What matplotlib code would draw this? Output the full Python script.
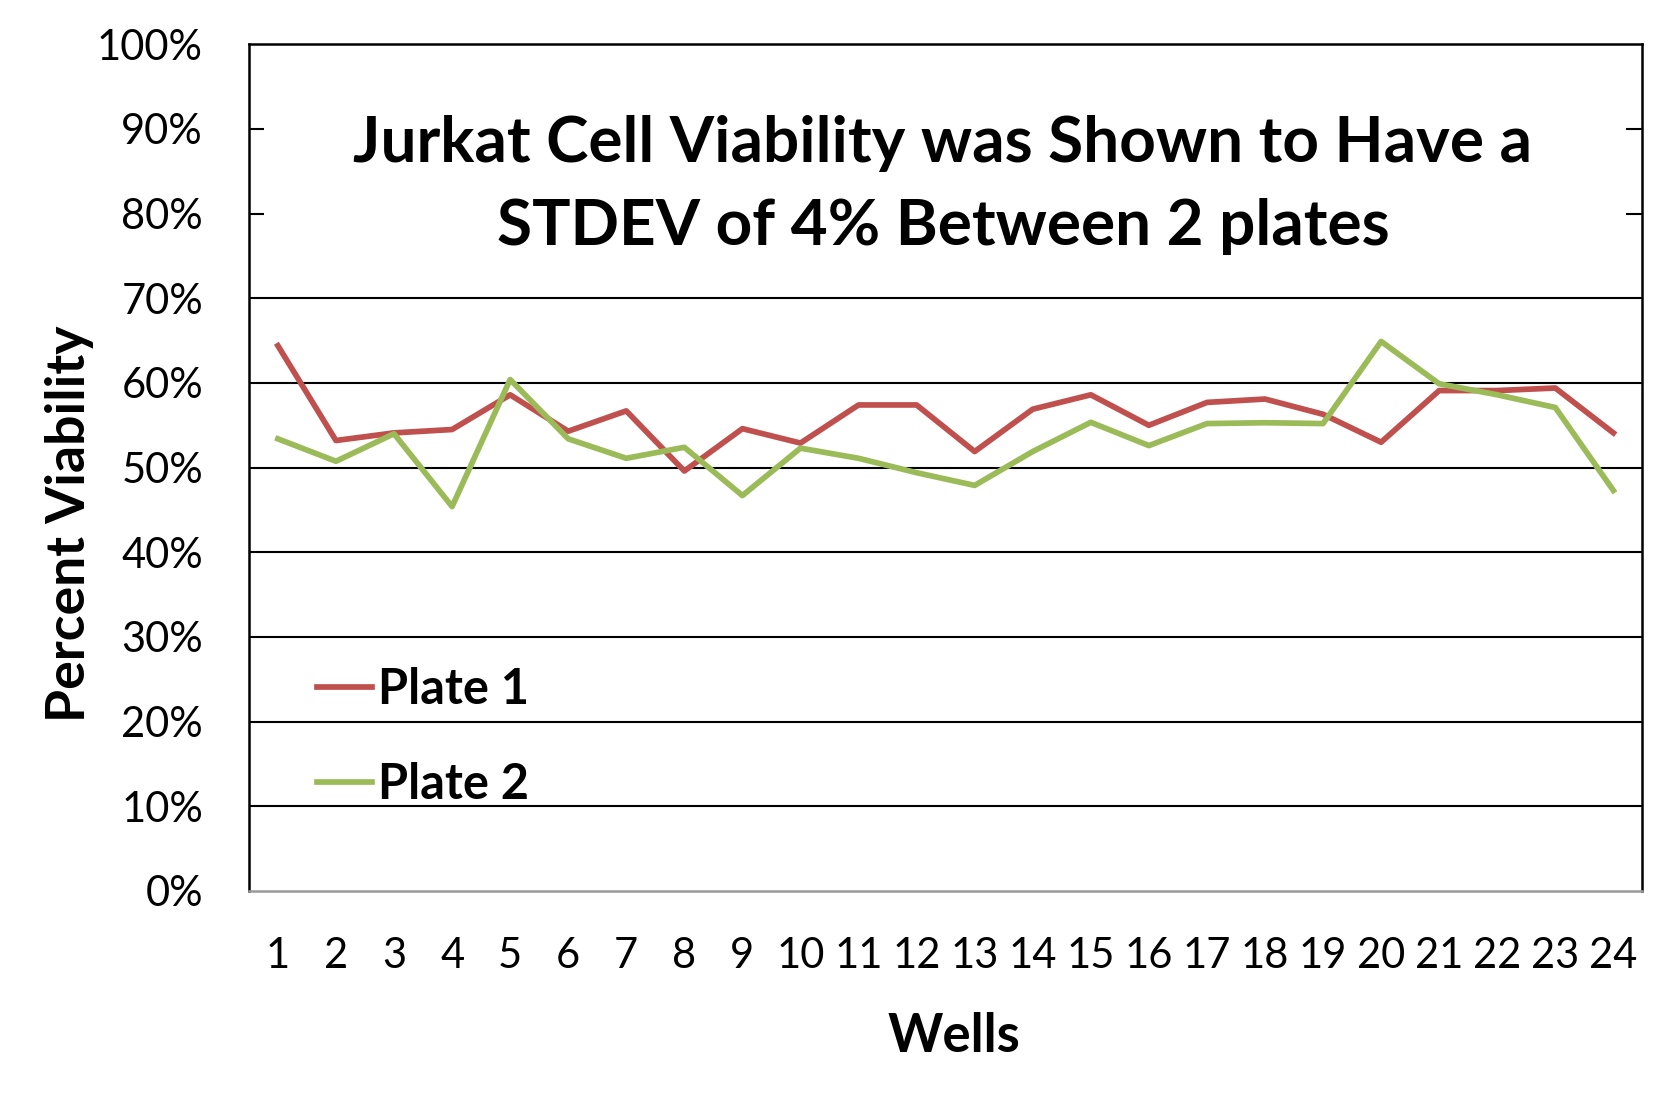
import matplotlib
matplotlib.use("Agg")
import matplotlib.pyplot as plt
from matplotlib.patches import Rectangle
from matplotlib.ticker import PercentFormatter

plt.rcParams['font.family'] = ['Lato', 'DejaVu Sans']

wells = list(range(1, 25))
plate1 = [64.4, 53.2, 54.1, 54.5, 58.6, 54.3, 56.7, 49.6, 54.6, 52.9, 57.4, 57.4,
          51.9, 56.9, 58.6, 55.0, 57.7, 58.1, 56.3, 53.0, 59.1, 59.1, 59.4, 54.1]
plate2 = [53.4, 50.75, 54.0, 45.4, 60.4, 53.4, 51.1, 52.4, 46.7, 52.3, 51.1, 49.4,
          47.9, 51.9, 55.35, 52.6, 55.2, 55.3, 55.2, 64.9, 59.9, 58.6, 57.1, 47.3]
series_names = ["Plate 1", "Plate 2"]
title = "Jurkat Cell Viability was Shown to Have a\nSTDEV of 4% Between 2 plates"
xlabel = "Wells"
ylabel = "Percent Viability"
yticks = list(range(0, 101, 10))

fig = plt.figure(figsize=(16.59, 11.06), dpi=100)
ax = fig.add_axes([0.150, 0.1944, 0.840, 0.7656])

for y in yticks[1:-1]:
    ax.axhline(y, color='black', lw=1.5, zorder=1)

ax.plot(wells, plate1, color='#C0504D', lw=4.1, label=series_names[0], zorder=3)
ax.plot(wells, plate2, color='#9BBB59', lw=4.1, label=series_names[1], zorder=3)

ax.set_xlim(0.5, 24.5)
ax.set_ylim(0, 100)
ax.set_yticks(yticks)
ax.yaxis.set_major_formatter(PercentFormatter(decimals=0))
ax.set_xticks(wells)
ax.set_xticklabels([str(w) for w in wells])
ax.tick_params(axis='y', length=0, pad=33, labelsize=30)
ax.tick_params(axis='x', length=0, pad=33, labelsize=30)

for s in ['left', 'top', 'right']:
    ax.spines[s].set_color('black')
    ax.spines[s].set_linewidth(1.8)
ax.spines['bottom'].set_color('#999999')
ax.spines['bottom'].set_linewidth(1.8)

ax.add_patch(Rectangle((0.0111, 0.727), 0.9774, 0.20, transform=ax.transAxes,
                       facecolor='white', edgecolor='none', zorder=2))
ax.text(0.498, 0.834, title, transform=ax.transAxes, ha='center', va='center',
        fontsize=46, fontweight='bold', linespacing=1.55, zorder=4)

fig.text(70 / 1659, 1 - 524 / 1106, ylabel, rotation=90, ha='center', va='center',
         fontsize=38.5, fontweight='bold')
fig.text(954 / 1659, 1 - 1037 / 1106, xlabel, ha='center', va='center',
         fontsize=38, fontweight='bold')

leg = ax.legend(loc='center left', bbox_to_anchor=(0.049, 0.182), frameon=False,
                prop={'size': 35, 'weight': 'bold'}, handlelength=1.13,
                handletextpad=0.13, labelspacing=1.04, borderpad=0, borderaxespad=0)

fig.savefig("out.png", dpi=100)
